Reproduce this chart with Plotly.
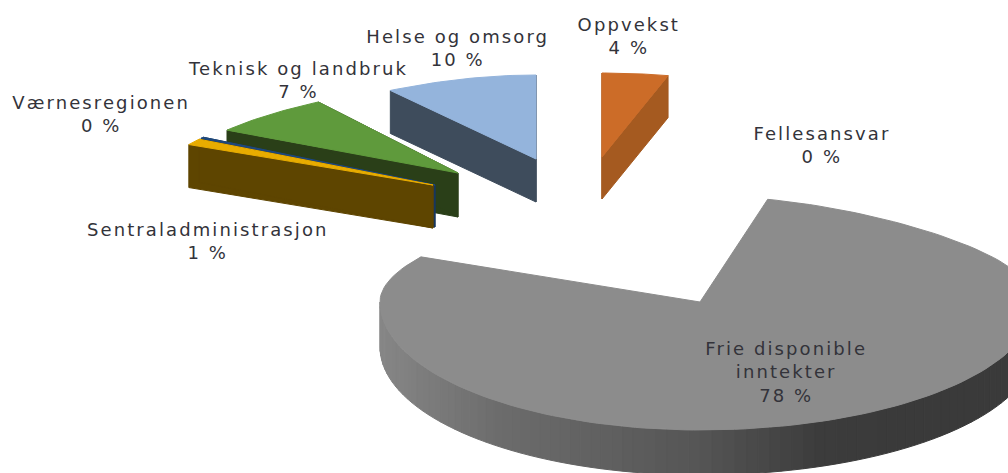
import math
import plotly.graph_objects as go

# Data, clockwise from 12 o'clock
categories = ["Oppvekst", "Fellesansvar", "Frie disponible inntekter", "Sentraladministrasjon",
              "Værnesregionen", "Teknisk og landbruk", "Helse og omsorg"]
values = [4.0, 0.0, 78.0, 1.0, 0.2, 7.0, 9.8]
label_text = ["Oppvekst", "Fellesansvar", "Frie disponible<br>inntekter", "Sentraladministrasjon",
              "Værnesregionen", "Teknisk og landbruk", "Helse og omsorg"]

# Drawing style / projection (screen px), by category
top_colors = {"Oppvekst": "#cc6c28", "Frie disponible inntekter": "#8c8c8c", "Sentraladministrasjon": "#e8ac00",
              "Værnesregionen": "#1f497d", "Teknisk og landbruk": "#5f9a3c", "Helse og omsorg": "#94b4dc"}
side_colors = {"Oppvekst": "#a55a20", "Sentraladministrasjon": "#5e4500", "Værnesregionen": "#17375e",
               "Teknisk og landbruk": "#2a3f18", "Helse og omsorg": "#3e4c5c"}
# apex x, apex y, rx, ry back, depth
proj = {"Oppvekst": (602, 157, 327, 84, 42), "Helse og omsorg": (536, 159, 291, 84, 43),
        "Teknisk og landbruk": (458, 173, 279, 87, 44), "Værnesregionen": (435, 185, 280, 97, 42),
        "Sentraladministrasjon": (433, 185, 280, 95, 43)}
label_pos = {"Oppvekst": (629, 36), "Helse og omsorg": (457, 48), "Teknisk og landbruk": (298, 80),
             "Værnesregionen": (101, 114), "Fellesansvar": (822, 145), "Sentraladministrasjon": (207, 241),
             "Frie disponible inntekter": (786, 372)}
draw_order = ["Oppvekst", "Helse og omsorg", "Teknisk og landbruk", "Værnesregionen", "Sentraladministrasjon"]
MAIN = "Frie disponible inntekter"
MX, MY, MD = 700, 302, 45

total = sum(values)
angles = {}
a = 90.0
for c, v in zip(categories, values):
    angles[c] = (a, a - v / total * 360)
    a -= v / total * 360


def point(deg, ax, ay, rx, ry):
    t = math.radians(deg)
    s, c = math.sin(t), math.cos(t)
    return ax + rx * (1 - 0.2 * s * s) * c, ay - ry * s


def main_point(deg):
    t = math.radians(deg)
    s, c = math.sin(t), math.cos(t)
    rx = 335 if c > 0 else 320
    if s > 0:
        return MX + rx * (1 - 0.2 * s * s) * c, MY - 106 * s
    return MX + rx * c, MY - 128 * s


def sweep(a0, a1, n=60):
    return [a0 + (a1 - a0) * i / n for i in range(n + 1)]


fig = go.Figure()


def poly(xs, ys, color, name):
    fig.add_trace(go.Scatter(x=xs + xs[:1], y=ys + ys[:1], mode="lines", fill="toself", fillcolor=color,
                             line=dict(color=color, width=1), hoverinfo="skip", showlegend=False, name=name))


for c in draw_order:
    ax, ay, rx, ry, d = proj[c]
    a0, a1 = angles[c]
    for edge in (a0, a1):
        px, py = point(edge, ax, ay, rx, ry)
        poly([px, ax, ax, px], [py, ay, ay + d, py + d], side_colors[c], c)
    pts = [point(x, ax, ay, rx, ry) for x in sweep(a0, a1, 24)]
    poly([ax] + [p[0] for p in pts], [ay] + [p[1] for p in pts], top_colors[c], c)


def grey(x):
    stops = [(381, 134), (500, 108), (700, 85), (820, 60), (900, 58), (1040, 58)]
    for (x0, g0), (x1, g1) in zip(stops, stops[1:]):
        if x <= x1:
            return round(g0 + (g1 - g0) * (x - x0) / (x1 - x0))
    return 58


a0, a1 = angles[MAIN]
arc = sweep(180, 360, 90)
for u, v in zip(arc, arc[1:]):
    (x0, y0), (x1, y1) = main_point(u), main_point(v)
    g = grey((x0 + x1) / 2)
    poly([x0, x1, x1, x0], [y0, y1, y1 + MD, y0 + MD], f"rgb({g},{g},{g})", MAIN)
pts = [main_point(x) for x in sweep(a0, a1, 160)]
poly([MX] + [p[0] for p in pts], [MY] + [p[1] for p in pts], top_colors[MAIN], MAIN)

annotations = []
for c, t, v in zip(categories, label_text, values):
    x, y = label_pos[c]
    annotations.append(dict(x=x, y=y, xref="x", yref="y", text=f"{t}<br>{round(v / total * 100)} %", showarrow=False,
                            align="center", font=dict(family="DejaVu Sans", size=18, color="#33333a")))

fig.update_layout(width=1008, height=473, margin=dict(l=0, r=0, t=0, b=0), paper_bgcolor="white",
                  plot_bgcolor="white", showlegend=False, annotations=annotations,
                  xaxis=dict(range=[0, 1008], visible=False, fixedrange=True),
                  yaxis=dict(range=[473, 0], visible=False, fixedrange=True))
post = ("document.body.style.margin='0';"
        "document.querySelectorAll('.annotation-text').forEach(function(e){e.style.letterSpacing='2.1px';});")
fig.write_html("out.html", config={"displayModeBar": False}, post_script=post)
